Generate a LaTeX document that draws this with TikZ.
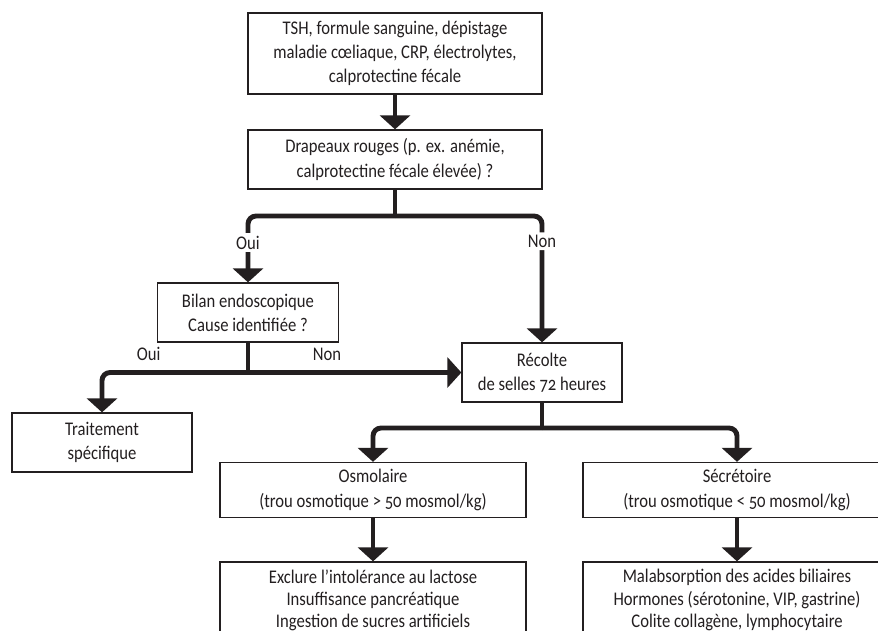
\documentclass[tikz,border=0pt]{standalone}
\usepackage{fontspec}
\setmainfont{Carlito}[FakeStretch=0.86, Numbers=OldStyle]
\usepackage{tikz}
\usetikzlibrary{arrows.meta}
\definecolor{ink}{HTML}{231F20}
\newcommand{\flowUnit}[0]{0.02cm}

\begin{document}
\begin{tikzpicture}[x=\flowUnit, y=-\flowUnit]
  \tikzset{every node/.style={font=\fontsize{11}{13.8}\selectfont, text=ink},
    box/.style={draw=ink, line width=0.75pt, fill=white, align=center, inner sep=0pt},
    list/.style={box, font=\fontsize{11}{12.6}\selectfont},
    flow/.style={draw=ink, line width=2.8pt, rounded corners=0.16cm},
    tip/.style={-{Triangle[width=0.6cm, length=0.28cm]}},
    answer/.style={fill=white, inner sep=1.5pt}}
  \useasboundingbox (0,0) rectangle (878,630);
  \clip (0,0) rectangle (878,630);
  \node[box, minimum width=5.88cm, minimum height=1.62cm] (TEST-1) at (395,53.5)
    {TSH, formule sanguine, dépistage\\maladie cœliaque, CRP, électrolytes,\\calprotectine fécale};
  \node[box, minimum width=5.88cm, minimum height=1.18cm] (FLAG-1) at (395,159.5)
    {Drapeaux rouges (p. ex. anémie,\\calprotectine fécale élevée) ?};
  \node[box, minimum width=3.62cm, minimum height=1.18cm] (ENDO-1) at (248,312.5)
    {Bilan endoscopique\\Cause identifiée ?};
  \node[box, minimum width=3.6cm, minimum height=1.18cm] (TREAT-1) at (102,442.5)
    {Traitement\\spécifique};
  \node[box, minimum width=3.2cm, minimum height=1.18cm] (STOOL-1) at (542,372.5)
    {Récolte\\de selles 72 heures};
  \node[box, minimum width=6.12cm, minimum height=1.1cm] (OSMO-1) at (373,490)
    {Osmolaire\\(trou osmotique > 50 mosmol/kg)};
  \node[box, minimum width=6.16cm, minimum height=1.1cm] (SECR-1) at (737,490)
    {Sécrétoire\\(trou osmotique < 50 mosmol/kg)};
  \node[list, minimum width=6.12cm, minimum height=1.52cm] (OSMO-2) at (373,600)
    {Exclure l’intolérance au lactose\\Insuffisance pancréatique\\Ingestion de sucres artificiels};
  \node[list, minimum width=6.16cm, minimum height=1.52cm] (SECR-2) at (737,600)
    {Malabsorption des acides biliaires\\Hormones (sérotonine, VIP, gastrine)\\Colite collagène, lymphocytaire};
  \coordinate (J-1) at (395,216);
  \coordinate (J-2) at (248,372.5);
  \coordinate (J-3) at (542,428);
  \draw[flow, tip] (TEST-1.south) -- (FLAG-1.north);
  \draw[flow] (FLAG-1.south) -- (J-1);
  \draw[flow, tip] (J-1) -| node[answer, pos=0.7] {Oui} (ENDO-1.north);
  \draw[flow, tip] (J-1) -| node[answer, pos=0.6] {Non} (STOOL-1.north);
  \draw[flow] (ENDO-1.south) -- (J-2);
  \draw[flow, tip] (J-2) -| node[above=2pt, pos=0.34] {Oui} (TREAT-1.north);
  \draw[flow, tip] (J-2) -- node[above=2pt, pos=0.37] {Non} (STOOL-1.west);
  \draw[flow] (STOOL-1.south) -- (J-3);
  \draw[flow, tip] (J-3) -| (OSMO-1.north);
  \draw[flow, tip] (J-3) -| (SECR-1.north);
  \draw[flow, tip] (OSMO-1.south) -- (OSMO-2.north);
  \draw[flow, tip] (SECR-1.south) -- (SECR-2.north);
\end{tikzpicture}
\end{document}
